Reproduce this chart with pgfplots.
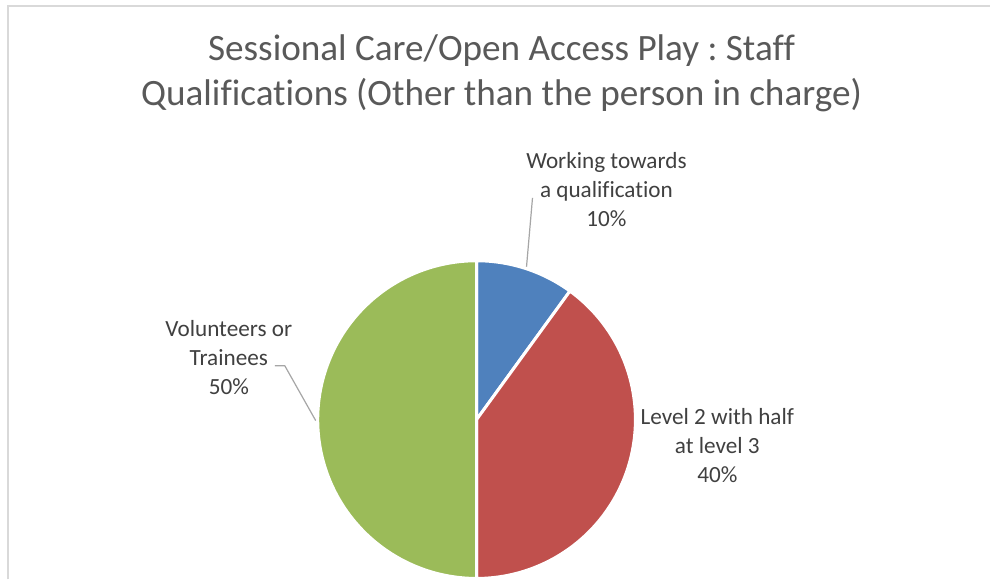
\documentclass[border=0pt]{standalone}
\usepackage{pgfplots}
\pgfplotsset{compat=1.18}
\usepackage{pgfplotstable}
\usepackage{fontspec}
\setmainfont{Carlito}[Ligatures={NoCommon,NoRare,NoDiscretionary,NoContextual}]
\frenchspacing
\definecolor{sliceblue}{HTML}{4F81BD}
\definecolor{slicered}{HTML}{C0504D}
\definecolor{slicegreen}{HTML}{9BBB59}
\definecolor{titlegray}{HTML}{595959}
\definecolor{labelgray}{HTML}{404040}
\definecolor{framegray}{HTML}{D9D9D9}
\definecolor{leadergray}{HTML}{A6A6A6}
% share of staff (percent)
\pgfplotstableread{
label value
working 10
level2 40
volunteers 50
}\piedata
\pgfplotstablegetelem{0}{value}\of\piedata \let\vA\pgfplotsretval
\pgfplotstablegetelem{1}{value}\of\piedata \let\vB\pgfplotsretval
\pgfplotstablegetelem{2}{value}\of\piedata \let\vC\pgfplotsretval
\pgfmathsetmacro\aA{90}
\pgfmathsetmacro\aB{\aA-3.6*\vA}
\pgfmathsetmacro\aC{\aB-3.6*\vB}
\pgfmathsetmacro\aD{\aC-3.6*\vC}
\def\cx{477}\def\cy{160}\def\rr{159}
\begin{document}
\begin{tikzpicture}
\begin{axis}[
  x=0.5pt, y=0.5pt,
  xmin=0, xmax=991, ymin=0, ymax=580,
  hide axis, clip=false,
]
\path[fill=white] (axis cs:0,0) rectangle (axis cs:991,580);
\draw[framegray, line width=0.9pt] (axis cs:8,0) -- (axis cs:8,574) -- (axis cs:991,574);
% slices
\addplot[fill=sliceblue, draw=white, line width=1.5pt, domain=\aA:\aB, samples=40]
  ({\cx+\rr*cos(x)},{\cy+\rr*sin(x)}) -- (axis cs:\cx,\cy) -- cycle;
\addplot[fill=slicered, draw=white, line width=1.5pt, domain=\aB:\aC, samples=100]
  ({\cx+\rr*cos(x)},{\cy+\rr*sin(x)}) -- (axis cs:\cx,\cy) -- cycle;
\addplot[fill=slicegreen, draw=white, line width=1.5pt, domain=\aC:\aD, samples=120]
  ({\cx+\rr*cos(x)},{\cy+\rr*sin(x)}) -- (axis cs:\cx,\cy) -- cycle;
% leader lines
\draw[leadergray, line width=0.6pt] (axis cs:527,313) -- (axis cs:533,382);
\draw[leadergray, line width=0.6pt] (axis cs:316,159) -- (axis cs:285,214) -- (axis cs:275,214);
% title
\node[anchor=base, text=titlegray, font=\fontsize{18.6}{22.5}\selectfont] at (axis cs:502,519) {Sessional Care/Open Access Play : Staff};
\node[anchor=base, text=titlegray, font=\fontsize{18.6}{22.5}\selectfont] at (axis cs:502,474) {Qualifications (Other than the person in charge)};
% labels
\tikzset{lbl/.style={anchor=base, text=labelgray, font=\fontsize{11.6}{14.5}\selectfont, inner sep=0pt}}
\node[lbl] at (axis cs:607,411) {Working towards};
\node[lbl] at (axis cs:607,382) {a qualification};
\node[lbl] at (axis cs:607,353) {10\%};
\node[lbl] at (axis cs:718,155) {Level 2 with half};
\node[lbl] at (axis cs:718,126) {at level 3};
\node[lbl] at (axis cs:718,97) {40\%};
\node[lbl] at (axis cs:229,243) {Volunteers or};
\node[lbl] at (axis cs:229,214) {Trainees};
\node[lbl] at (axis cs:229,185) {50\%};
\end{axis}
\end{tikzpicture}
\end{document}
